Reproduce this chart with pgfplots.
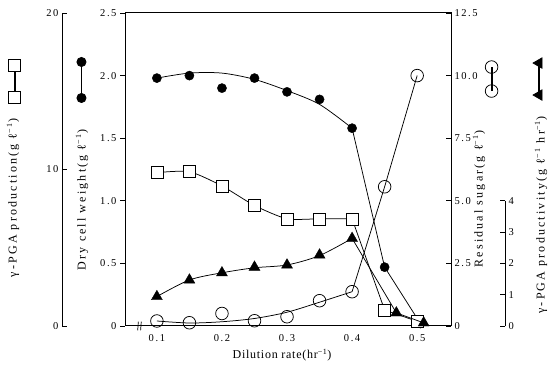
\documentclass[border=0pt]{standalone}
\usepackage{pgfplots}
\pgfplotsset{compat=1.18}
\usepackage{fontspec}
\setmainfont{Liberation Serif}
\newfontfamily\vlab{Liberation Serif}[LetterSpace=18.0]
\newfontfamily\hlab{Liberation Serif}[LetterSpace=6.0]
\newfontfamily\tkf{Liberation Serif}[LetterSpace=15.0]
\begin{document}
\begin{tikzpicture}
\useasboundingbox (0pt,0pt) rectangle (552pt,378pt);
% connecting strokes of the legend keys (under the keys)
\draw[line width=0.75pt] (15.1pt,281pt) -- (15.1pt,313pt);
\draw[line width=0.75pt] (492.1pt,287pt) -- (492.1pt,311pt);
\draw[line width=0.75pt] (538pt,283pt) -- (538pt,315pt);
\pgfplotsset{
  base/.style={scale only axis, width=326pt, height=313pt, xmin=0.051, xmax=0.552,
    at={(125pt,52pt)}, anchor=south west, clip=false,
    /pgf/number format/assume math mode=true,
    tick label style={font=\fontsize{10.5}{12}\tkf},
    axis line style={line width=1pt}, tick style={line width=0.9pt, black},
    major tick length=5pt},
  over/.style={base, hide x axis, hide y axis,
    legend style={anchor=center, draw=none, fill=none, inner sep=0pt, outer sep=0pt, nodes={inner sep=0pt}},
  },
  ln/.style={line width=0.75pt, black},
}
% main axis: dry cell weight
\begin{axis}[base, ymin=0, ymax=2.5,
  ytick={0,0.5,1,1.5,2,2.5}, yticklabels={0,0.5,1.0,1.5,2.0,2.5},
  ytick pos=left, tick align=outside,
  xtick={0.1,0.2,0.3,0.4,0.5}, xticklabels={0.1,0.2,0.3,0.4,0.5},
  xtick style={draw=none},
  legend style={at={(-0.132,0.786)}, anchor=center, draw=none, fill=none, inner sep=0pt, outer sep=0pt, nodes={inner sep=0pt}},
  legend image code/.code={\draw[line width=0.75pt, black] (0pt,-18pt) -- (0pt,18pt);
    \path[#1] plot coordinates {(0pt,-18pt)(0pt,18pt)};}]
\addlegendimage{ln, mark=*, mark size=4.6pt}
\addlegendentry{\hspace{0pt}}
\addplot[ln, smooth, forget plot] coordinates {(0.1,1.98)(0.15,2.02)(0.2,2.02)(0.25,1.97)(0.3,1.88)(0.35,1.77)(0.4,1.58)};
\addplot[ln, forget plot] coordinates {(0.4,1.58)(0.45,0.47)(0.505,0.02)};
\addplot[only marks, mark=*, mark size=4.6pt, black, forget plot] coordinates {
(0.1,1.98)(0.15,2.00)(0.2,1.90)(0.25,1.98)(0.3,1.87)(0.35,1.81)(0.4,1.58)(0.45,0.47)(0.505,0.02)};
\draw[line width=0.7pt] (axis cs:0.0705,-0.035) -- (axis cs:0.0715,0.035);
\draw[line width=0.7pt] (axis cs:0.0750,-0.035) -- (axis cs:0.0760,0.035);
\end{axis}
% residual sugar
\begin{axis}[base, ymin=0, ymax=12.5, hide x axis, axis y line*=right,
  ytick={0,2.5,5,7.5,10,12.5}, yticklabels={0,2.5,5.0,7.5,10.0,12.5},
  tick align=inside,
  legend style={at={(1.126,0.789)}, anchor=center, draw=none, fill=none, inner sep=0pt, outer sep=0pt, nodes={inner sep=0pt}},
  legend image code/.code={\path[#1] plot coordinates {(0pt,-12pt)(0pt,12pt)};}]
\addlegendimage{ln, mark=o, mark size=6.3pt, mark options={fill=white}}
\addlegendentry{\hspace{0pt}}
\addplot[ln, smooth, forget plot] coordinates {(0.1,0.2)(0.15,0.12)(0.2,0.17)(0.25,0.3)(0.3,0.55)(0.35,0.95)(0.4,1.37)};
\addplot[ln, forget plot] coordinates {(0.4,1.37)(0.45,5.56)(0.5,10.0)};
\end{axis}
% gamma-PGA production (squares)
\begin{axis}[over, ymin=0, ymax=20,
  legend style={at={(-0.337,0.783)}},
  legend image code/.code={\path[#1] plot coordinates {(0pt,-16pt)(0pt,16pt)};}]
\addlegendimage{ln, mark=square*, mark size=6pt, mark options={fill=white}}
\addlegendentry{\hspace{0pt}}
\addplot[ln, smooth, tension=0.4, forget plot] coordinates {(0.1,9.8)(0.15,9.86)(0.2,8.95)(0.25,7.7)(0.3,6.85)(0.35,6.85)(0.4,6.85)};
\addplot[ln, forget plot] coordinates {(0.4,6.85)(0.45,1.02)(0.5,0.3)};
\addplot[only marks, mark=square*, mark size=6pt, black, mark options={fill=white}, forget plot] coordinates {
(0.1,9.8)(0.15,9.86)(0.2,8.95)(0.25,7.7)(0.3,6.85)(0.35,6.85)(0.4,6.85)(0.45,1.02)(0.5,0.3)};
\end{axis}
% gamma-PGA productivity (triangles)
\begin{axis}[over, ymin=0, ymax=10,
  legend style={at={(1.267,0.789)}},
  legend image code/.code={\path[#1] plot coordinates {(0pt,-16pt)(0pt,16pt)};}]
\addlegendimage{ln, mark=triangle*, mark size=6pt, mark options={rotate=90}}
\addlegendentry{\hspace{0pt}}
\addplot[ln, smooth, forget plot] coordinates {(0.1,0.94)(0.15,1.47)(0.2,1.70)(0.25,1.86)(0.3,1.95)(0.35,2.25)(0.4,2.80)};
\addplot[ln, forget plot] coordinates {(0.4,2.80)(0.468,0.42)(0.51,0.1)};
\addplot[only marks, mark=triangle*, mark size=6.3pt, black, forget plot] coordinates {
(0.1,0.94)(0.15,1.47)(0.2,1.70)(0.25,1.88)(0.3,1.95)(0.35,2.27)(0.4,2.80)(0.468,0.42)(0.51,0.1)};
\end{axis}
% open circles on top (residual sugar)
\begin{axis}[over, ymin=0, ymax=12.5]
\addplot[only marks, mark=o, mark size=6.3pt, black, line width=0.75pt, mark options={fill=white}] coordinates {
(0.1,0.2)(0.15,0.13)(0.2,0.5)(0.25,0.21)(0.3,0.37)(0.35,1.01)(0.4,1.37)(0.45,5.56)(0.5,10.0)};
\end{axis}
% production scale (left)
\begin{axis}[scale only axis, width=20pt, height=313pt, at={(62pt,52pt)}, anchor=south west,
  ymin=0, ymax=20, hide x axis, axis y line*=left, ytick={0,10,20},
  tick align=inside, /pgf/number format/assume math mode=true,
  tick label style={font=\fontsize{10.5}{12}\tkf},
  axis line style={line width=1pt}, tick style={line width=0.9pt, black}, major tick length=5pt]
\addplot[draw=none] coordinates {(0,0)};
\end{axis}
% productivity scale (right)
\begin{axis}[scale only axis, width=20pt, height=125.2pt, at={(505pt,52pt)}, anchor=south east,
  ymin=0, ymax=4, hide x axis, axis y line*=right, ytick={0,1,2,3,4},
  tick align=inside, /pgf/number format/assume math mode=true,
  tick label style={font=\fontsize{10.5}{12}\tkf},
  axis line style={line width=1pt}, tick style={line width=0.9pt, black}, major tick length=5pt]
\addplot[draw=none] coordinates {(0,0)};
\end{axis}
% axis titles
\node[rotate=90, font=\fontsize{12}{14}\vlab] at (13pt,180pt) {γ-PGA production(g ℓ\textsuperscript{−1})};
\node[rotate=90, font=\fontsize{12}{14}\vlab] at (82pt,178pt) {Dry cell weight(g ℓ\textsuperscript{−1})};
\node[rotate=90, font=\fontsize{12}{14}\vlab] at (479pt,179pt) {Residual sugar(g ℓ\textsuperscript{−1})};
\node[rotate=90, font=\fontsize{12}{14}\vlab] at (541pt,163pt) {γ-PGA productivity(g ℓ\textsuperscript{−1} hr\textsuperscript{−1})};
\node[font=\fontsize{12}{14}\hlab] at (282pt,23pt) {Dilution rate(hr\textsuperscript{−1})};
\end{tikzpicture}
\end{document}
